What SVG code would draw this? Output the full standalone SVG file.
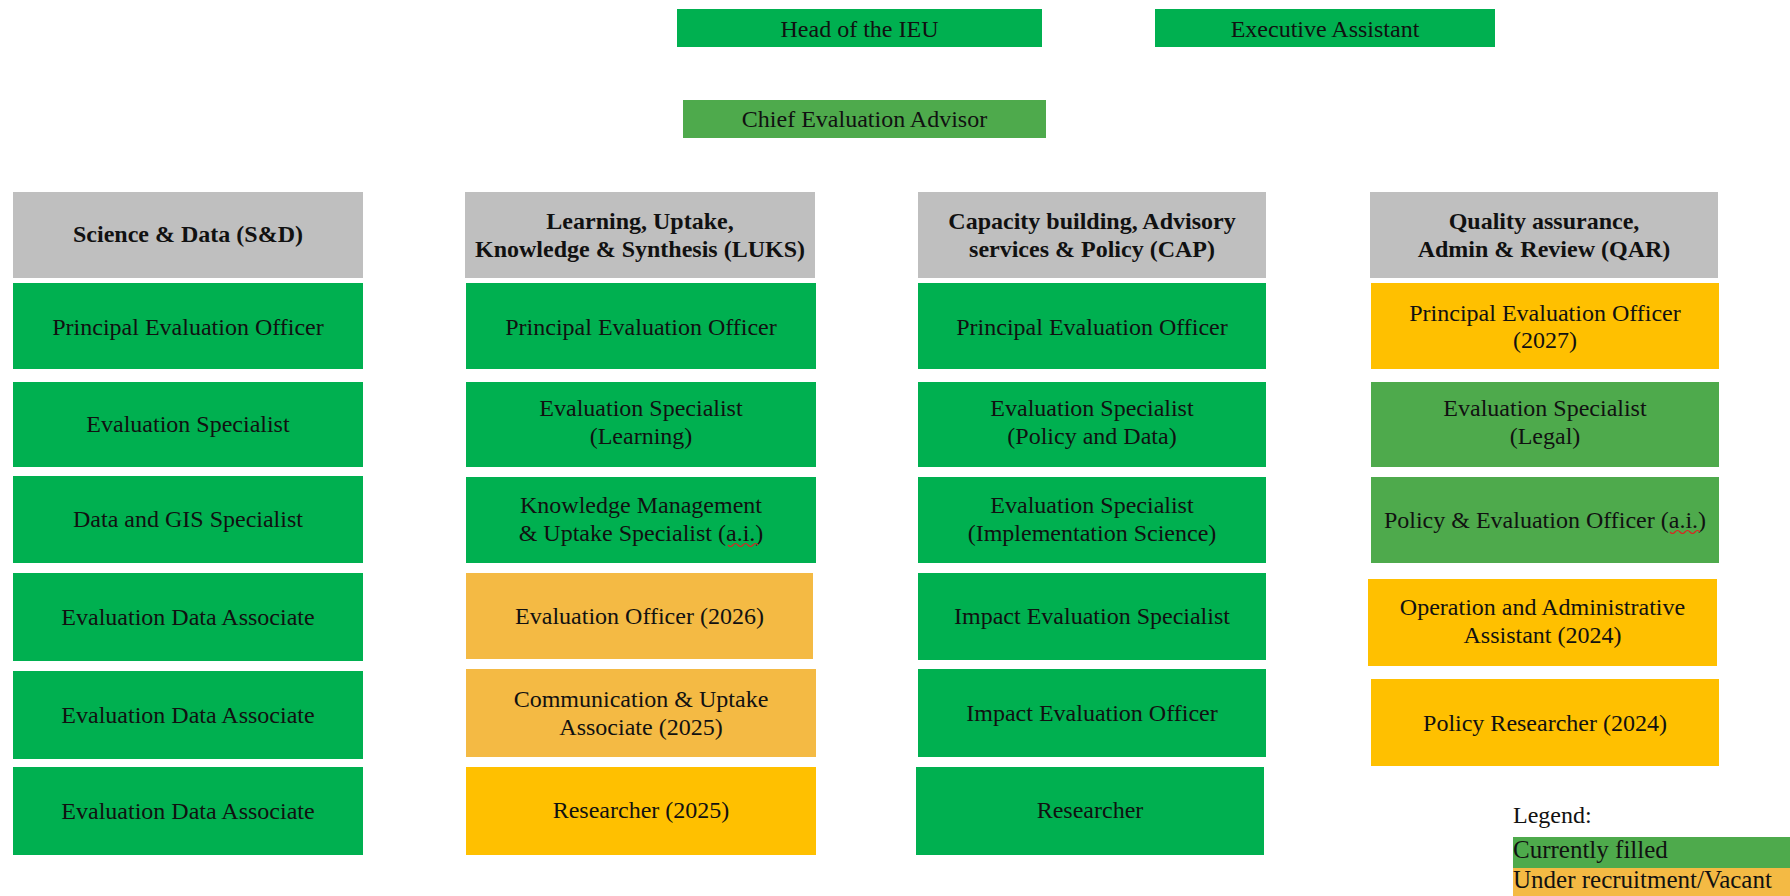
<svg xmlns="http://www.w3.org/2000/svg" width="1790" height="896" viewBox="0 0 1790 896">
<style>
  .g { fill: #00B050; }
  .lg { fill: #4EAA4C; }
  .y { fill: #FFC000; }
  .o { fill: #F4BA44; }
  .h { fill: #BFBFBF; }
  text { font-family: "Liberation Serif", "Times New Roman", serif; font-size: 24px; fill: #111; text-anchor: middle; }
  .b { font-weight: bold; }
  .l { text-anchor: start; }
  .lt { font-size: 25px; }
  .sq { fill: none; stroke: #E02020; stroke-width: 1.2; }
</style>
<rect width="1790" height="896" fill="#FFFFFF"/>

<g id="connectors"></g>

<!-- Top -->
<g id="head"><rect class="g" x="677" y="9" width="365" height="38"/><text x="859.5" y="37">Head of the IEU</text></g>
<g id="exec"><rect class="g" x="1155" y="9" width="340" height="38"/><text x="1325" y="37">Executive Assistant</text></g>
<g id="chief"><rect class="lg" x="683" y="100" width="363" height="38"/><text x="864.5" y="127">Chief Evaluation Advisor</text></g>

<!-- Headers -->
<g id="hdr-sd"><rect class="h" x="13" y="192" width="350" height="86"/><text class="b" x="188" y="242">Science &amp; Data (S&amp;D)</text></g>
<g id="hdr-luks"><rect class="h" x="465" y="192" width="350" height="86"/><text class="b" x="640" y="229">Learning, Uptake,</text><text class="b" x="640" y="257">Knowledge &amp; Synthesis (LUKS)</text></g>
<g id="hdr-cap"><rect class="h" x="918" y="192" width="348" height="86"/><text class="b" x="1092" y="229">Capacity building, Advisory</text><text class="b" x="1092" y="257">services &amp; Policy (CAP)</text></g>
<g id="hdr-qar"><rect class="h" x="1370" y="192" width="348" height="86"/><text class="b" x="1544" y="229">Quality assurance,</text><text class="b" x="1544" y="257">Admin &amp; Review (QAR)</text></g>

<!-- S&D column -->
<g id="sd1"><rect class="g" x="13" y="283" width="350" height="86"/><text x="188" y="335">Principal Evaluation Officer</text></g>
<g id="sd2"><rect class="g" x="13" y="382" width="350" height="85"/><text x="188" y="432">Evaluation Specialist</text></g>
<g id="sd3"><rect class="g" x="13" y="476" width="350" height="87"/><text x="188" y="527">Data and GIS Specialist</text></g>
<g id="sd4"><rect class="g" x="13" y="573" width="350" height="88"/><text x="188" y="625">Evaluation Data Associate</text></g>
<g id="sd5"><rect class="g" x="13" y="671" width="350" height="88"/><text x="188" y="723">Evaluation Data Associate</text></g>
<g id="sd6"><rect class="g" x="13" y="767" width="350" height="88"/><text x="188" y="819">Evaluation Data Associate</text></g>

<!-- LUKS column -->
<g id="luks1"><rect class="g" x="466" y="283" width="350" height="86"/><text x="641" y="335">Principal Evaluation Officer</text></g>
<g id="luks2"><rect class="g" x="466" y="382" width="350" height="85"/><text x="641" y="416">Evaluation Specialist</text><text x="641" y="444">(Learning)</text></g>
<g id="luks3"><rect class="g" x="466" y="477" width="350" height="86"/><text x="641" y="513">Knowledge Management</text><text x="641" y="541">&amp; Uptake Specialist (a.i.)</text>
  <path class="sq" d="M728,545 q2.5,3 5,0 t5,0 t5,0 t5,0 t5,0 t5,0"/></g>
<g id="luks4"><rect class="o" x="466" y="573" width="347" height="86"/><text x="639.5" y="624">Evaluation Officer (2026)</text></g>
<g id="luks5"><rect class="o" x="466" y="669" width="350" height="88"/><text x="641" y="707">Communication &amp; Uptake</text><text x="641" y="735">Associate (2025)</text></g>
<g id="luks6"><rect class="y" x="466" y="767" width="350" height="88"/><text x="641" y="818">Researcher (2025)</text></g>

<!-- CAP column -->
<g id="cap1"><rect class="g" x="918" y="283" width="348" height="86"/><text x="1092" y="335">Principal Evaluation Officer</text></g>
<g id="cap2"><rect class="g" x="918" y="382" width="348" height="85"/><text x="1092" y="416">Evaluation Specialist</text><text x="1092" y="444">(Policy and Data)</text></g>
<g id="cap3"><rect class="g" x="918" y="477" width="348" height="86"/><text x="1092" y="513">Evaluation Specialist</text><text x="1092" y="541">(Implementation Science)</text></g>
<g id="cap4"><rect class="g" x="918" y="573" width="348" height="87"/><text x="1092" y="624">Impact Evaluation Specialist</text></g>
<g id="cap5"><rect class="g" x="918" y="669" width="348" height="88"/><text x="1092" y="721">Impact Evaluation Officer</text></g>
<g id="cap6"><rect class="g" x="916" y="767" width="348" height="88"/><text x="1090" y="818">Researcher</text></g>

<!-- QAR column -->
<g id="qar1"><rect class="y" x="1371" y="283" width="348" height="86"/><text x="1545" y="321">Principal Evaluation Officer</text><text x="1545" y="348">(2027)</text></g>
<g id="qar2"><rect class="lg" x="1371" y="382" width="348" height="85"/><text x="1545" y="416">Evaluation Specialist</text><text x="1545" y="444">(Legal)</text></g>
<g id="qar3"><rect class="lg" x="1371" y="477" width="348" height="86"/><text x="1545" y="528">Policy &amp; Evaluation Officer (a.i.)</text>
  <path class="sq" d="M1670,532 q2.5,3 5,0 t5,0 t5,0 t5,0 t5,0 t5,0"/></g>
<g id="qar4"><rect class="y" x="1368" y="579" width="349" height="87"/><text x="1542.5" y="615">Operation and Administrative</text><text x="1542.5" y="643">Assistant (2024)</text></g>
<g id="qar5"><rect class="y" x="1371" y="679" width="348" height="87"/><text x="1545" y="731">Policy Researcher (2024)</text></g>

<!-- Legend -->
<g id="legend">
  <text class="l" x="1513" y="823">Legend:</text>
  <rect class="lg" x="1513" y="837" width="277" height="31"/>
  <rect class="o" x="1513" y="868" width="277" height="28"/>
  <text class="l lt" x="1513" y="858">Currently filled</text>
  <text class="l lt" x="1513" y="888">Under recruitment/Vacant</text>
</g>
</svg>
